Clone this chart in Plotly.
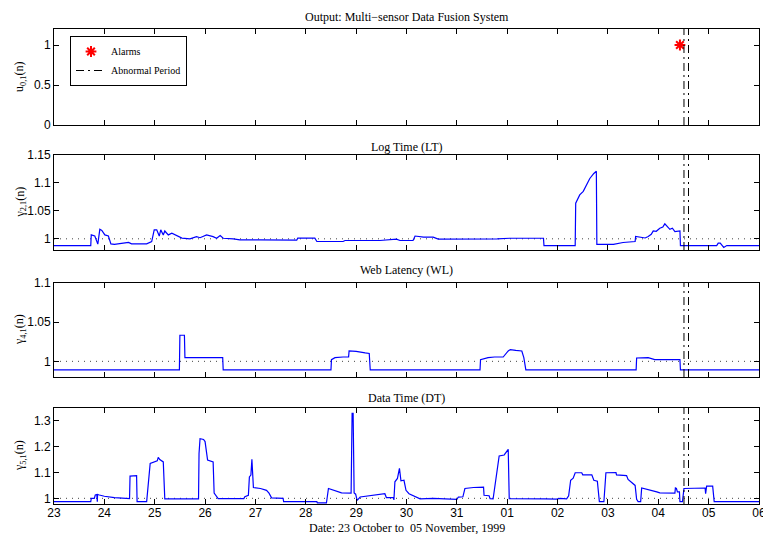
import plotly.graph_objects as go

# ---------------- data (x = days since 23 Oct 1999 00:00) ----------------
day_ticks = list(range(15))
day_labels = ["23", "24", "25", "26", "27", "28", "29", "30", "31",
              "01", "02", "03", "04", "05", "06"]

alarm_x = [12.43]
alarm_y = [1]
abnormal_start = 12.51
abnormal_end = 12.60

lt_x = [0, 0.73, 0.74, 0.81, 0.87, 0.91, 0.95, 1.01, 1.08, 1.13, 1.2, 1.33, 1.48, 1.54,
        1.84, 1.94, 1.99, 2.04, 2.09, 2.12, 2.17, 2.20, 2.27, 2.34, 2.44, 2.54, 2.70,
        2.83, 2.90, 3.03, 3.16, 3.23, 3.30, 3.36, 3.56, 3.69, 4.09, 4.30, 4.82, 4.84,
        5.18, 5.22, 5.74, 5.78, 6.47, 6.80, 6.87, 7.13, 7.17, 7.34, 7.53, 7.63, 8.20,
        8.26, 8.80, 9.05, 9.72, 9.73, 10.35, 10.36, 10.44, 10.51, 10.58, 10.64, 10.72,
        10.77, 10.78, 11.11, 11.30, 11.54, 11.55, 11.63, 11.74, 11.80, 11.86, 11.90,
        11.96, 12.03, 12.09, 12.13, 12.19, 12.23, 12.28, 12.33, 12.43, 12.44, 13.16,
        13.19, 13.23, 13.30, 13.36, 14.0]
lt_y = [0.988, 0.988, 1.007, 1.005, 0.9905, 1.017, 1.015, 1.007, 1.005, 0.991, 0.990,
        0.991, 0.9935, 0.991, 0.991, 0.995, 1.016, 1.016, 1.005, 1.016, 1.007, 1.014,
        1.007, 1.010, 1.005, 1.0012, 1.0, 1.004, 1.002, 1.007, 1.004, 1.001, 1.006,
        1.001, 1.0, 0.998, 0.998, 0.9976, 0.9976, 1.0012, 1.0012, 0.9952, 0.9952,
        0.997, 0.997, 0.9995, 0.997, 0.997, 1.005, 1.003, 1.003, 0.9995, 0.9995, 1.0,
        1.0, 1.001, 1.001, 0.988, 0.988, 1.0637, 1.0786, 1.085, 1.0964, 1.108, 1.117,
        1.121, 0.990, 0.990, 0.9934, 0.9952, 1.0041, 1.003, 1.0015, 1.004, 1.008,
        1.0143, 1.0135, 1.019, 1.021, 1.0268, 1.021, 1.017, 1.019, 1.013, 1.0143,
        0.988, 0.988, 0.9923, 0.9923, 0.9845, 0.988, 0.988]

wl_x = [0, 2.49, 2.50, 2.59, 2.60, 2.90, 2.93, 3.20, 3.35, 3.36, 5.50, 5.51, 5.58, 5.74,
        5.85, 5.86, 6.0, 6.18, 6.26, 6.28, 8.46, 8.47, 8.62, 8.75, 8.92, 9.02, 9.06,
        9.17, 9.29, 9.33, 9.37, 11.56, 11.57, 11.80, 11.93, 12.43, 12.44, 14.0]
wl_y = [0.989, 0.989, 1.0333, 1.0333, 1.0047, 1.0047, 1.0040, 1.0042, 1.0047, 0.989,
        0.989, 1.0022, 1.0047, 1.0055, 1.0055, 1.0132, 1.0128, 1.0107, 1.010, 0.989,
        0.989, 1.0022, 1.0047, 1.0055, 1.0055, 1.0132, 1.015, 1.014, 1.0132, 1.0047,
        0.989, 0.989, 1.0043, 1.0047, 1.0022, 1.0022, 0.989, 0.989]

dt_x = [0, 0.73, 0.74, 0.80, 0.82, 0.85, 0.86, 0.865, 0.90, 1.0, 1.2, 1.44, 1.50, 1.51,
        1.64, 1.65, 1.84, 1.91, 2.0, 2.05, 2.07, 2.10, 2.17, 2.20, 2.87, 2.88, 2.90,
        2.97, 3.0, 3.05, 3.16, 3.18, 3.26, 3.77, 3.79, 3.86, 3.88, 3.91, 3.93, 3.96,
        4.10, 4.22, 4.27, 4.32, 4.55, 4.56, 5.22, 5.23, 5.41, 5.45, 5.71, 5.90, 5.92,
        5.94, 5.96, 5.99, 6.02, 6.04, 6.08, 6.57, 6.60, 6.74, 6.75, 6.77, 6.82, 6.86,
        6.89, 6.95, 6.99, 7.05, 7.13, 7.27, 7.53, 8.0, 8.03, 8.12, 8.16, 8.33, 8.53,
        8.54, 8.64, 8.66, 8.72, 8.76, 8.79, 8.84, 8.94, 9.02, 9.04, 9.68, 9.75, 9.98,
        10.05, 10.18, 10.22, 10.26, 10.31, 10.35, 10.48, 10.50, 10.68, 10.72, 10.79,
        10.83, 10.92, 10.96, 11.16, 11.17, 11.37, 11.40, 11.47, 11.54, 11.57, 11.60,
        11.65, 11.67, 11.97, 12.03, 12.33, 12.34, 12.36, 12.38, 12.42, 12.43, 12.48,
        12.51, 12.93, 12.94, 12.96, 13.08, 13.11, 14.0]
dt_y = [0.987, 0.987, 1.0, 1.0, 1.013, 1.015, 0.987, 1.015, 1.013, 1.008, 1.003, 0.999,
        0.999, 1.086, 1.088, 0.987, 0.987, 1.135, 1.14, 1.145, 1.159, 1.15, 1.141,
        0.998, 0.998, 1.174, 1.231, 1.228, 1.22, 1.148, 1.141, 1.02, 0.999, 0.999,
        1.006, 1.012, 1.083, 1.09, 1.151, 1.042, 1.038, 1.031, 1.02, 1.002, 1.0, 0.987,
        0.987, 0.982, 0.982, 1.038, 1.021, 1.020, 1.329, 1.329, 1.021, 1.016, 0.992,
        0.998, 1.005, 1.018, 1.003, 1.003, 0.994, 1.064, 1.077, 1.116, 1.068, 1.07,
        1.031, 1.018, 1.010, 0.998, 1.0, 0.996, 1.005, 1.006, 1.038, 1.042, 1.043,
        1.012, 1.010, 0.999, 0.998, 1.051, 1.083, 1.164, 1.168, 1.190, 0.999, 1.0,
        0.998, 0.997, 1.0, 0.998, 1.01, 1.070, 1.078, 1.099, 1.099, 1.091, 1.091, 1.070,
        1.066, 0.987, 0.987, 1.099, 1.100, 1.091, 1.088, 1.073, 1.063, 1.050, 0.996,
        0.987, 0.987, 1.040, 1.025, 1.021, 1.020, 1.040, 1.038, 1.025, 1.025, 0.987,
        0.987, 1.038, 1.040, 1.018, 1.047, 1.047, 0.987, 0.987]

panel_titles = ["Output: Multi\u2212sensor Data Fusion System", "Log Time (LT)",
                "Web Latency (WL)", "Data Time (DT)"]
y_labels = ["u<sub>0,1</sub>(n)", "\u03b3<sub>2,1</sub>(n)",
            "\u03b3<sub>4,1</sub>(n)", "\u03b3<sub>5,1</sub>(n)"]
y_ranges = [[0, 1.2], [0.98, 1.15], [0.98, 1.1], [0.978, 1.35]]
y_tickvals = [[0, 0.5, 1], [1, 1.05, 1.1, 1.15], [1, 1.05, 1.1], [1, 1.1, 1.2, 1.3]]
y_ticktext = [["0", "0.5", "1"], ["1", "1.05", "1.1", "1.15"], ["1", "1.05", "1.1"],
              ["1", "1.1", "1.2", "1.3"]]
x_title = "Date: 23 October to  05 November, 1999"

# ---------------- layout geometry ----------------
W, H = 763, 534
L, R, T, B = 54, 4, 29, 30
plot_h = H - T - B
plot_w = W - L - R
panel_px = [(29, 125), (155, 250), (283, 377), (408, 504)]   # top, bottom in px
title_px = [17, 147, 270, 398]

def py(p):
    return (H - B - p) / plot_h

def px(p):
    return (p - L) / plot_w

SERIF = "Liberation Serif, Times New Roman, serif"
SANS = "Liberation Sans, Arial, Helvetica, sans-serif"
BLUE = "#0000ff"
DASHDOT = "8px,4px,2px,4px"

fig = go.Figure()

# panel 1: alarms
fig.add_trace(go.Scatter(x=alarm_x, y=alarm_y, mode="markers", name="Alarms",
                         marker=dict(symbol="asterisk-open", size=9, color="red",
                                     line=dict(color="red", width=2)),
                         xaxis="x", yaxis="y"))
fig.add_trace(go.Scatter(x=[None], y=[None], mode="lines", name="Abnormal Period",
                         line=dict(color="black", width=1, dash=DASHDOT),
                         xaxis="x", yaxis="y"))

series = [(lt_x, lt_y), (wl_x, wl_y), (dt_x, dt_y)]
for i, (sx, sy) in enumerate(series, start=2):
    fig.add_trace(go.Scatter(x=sx, y=sy, mode="lines", showlegend=False,
                             line=dict(color=BLUE, width=1.2),
                             xaxis=f"x{i}", yaxis=f"y{i}"))

layout = dict(
    width=W, height=H, margin=dict(l=L, r=R, t=T, b=B, autoexpand=False),
    paper_bgcolor="white", plot_bgcolor="white",
    font=dict(family=SANS, size=12, color="black"),
    showlegend=True,
    legend=dict(x=px(70), y=py(36), xanchor="left", yanchor="top",
                bgcolor="white", bordercolor="black", borderwidth=1,
                font=dict(family=SERIF, size=10, color="black"),
                tracegroupgap=0, itemwidth=30),
)

annotations = []
shapes = []
for k in range(4):
    n = "" if k == 0 else str(k + 1)
    top, bot = panel_px[k]
    layout[f"xaxis{n}"] = dict(
        domain=[0, 1], anchor=f"y{n}", range=[0, 14], automargin=False,
        tickmode="array", tickvals=day_ticks, ticktext=day_labels,
        showticklabels=(k == 3), ticks="inside", ticklen=5, tickcolor="black",
        ticklabeloverflow="allow", ticklabelstandoff=-2,
        showline=True, linecolor="black", linewidth=1, mirror="ticks",
        showgrid=False, zeroline=False,
        tickfont=dict(family=SANS, size=12, color="black"),
    )
    layout[f"yaxis{n}"] = dict(
        domain=[py(bot), py(top)], anchor=f"x{n}", range=y_ranges[k],
        automargin=False,
        tickmode="array", tickvals=y_tickvals[k], ticktext=y_ticktext[k],
        ticks="inside", ticklen=5, tickcolor="black",
        showline=True, linecolor="black", linewidth=1, mirror="ticks",
        showgrid=False, zeroline=False,
        tickfont=dict(family=SANS, size=12, color="black"),
    )
    annotations.append(dict(text=panel_titles[k], xref="paper", yref="paper",
                            x=0.5, y=py(title_px[k]), xanchor="center",
                            yanchor="middle", showarrow=False,
                            font=dict(family=SERIF, size=12, color="black")))
    annotations.append(dict(text=y_labels[k], xref="paper", yref="paper",
                            x=px(20), y=py((top + bot) / 2),
                            xanchor="center", yanchor="middle", textangle=-90,
                            showarrow=False,
                            font=dict(family=SERIF, size=12, color="black")))
    for xv in (abnormal_start, abnormal_end):
        shapes.append(dict(type="line", xref=f"x{n}", yref=f"y{n} domain",
                           x0=xv, x1=xv, y0=0, y1=1,
                           line=dict(color="black", width=1, dash=DASHDOT)))
    if k > 0:
        shapes.append(dict(type="line", xref=f"x{n} domain", yref=f"y{n}",
                           x0=0, x1=1, y0=1, y1=1, layer="below",
                           line=dict(color="#444444", width=1, dash="1px,5px")))

annotations.append(dict(text=x_title, xref="paper", yref="paper", x=0.5, y=py(527.5),
                        xanchor="center", yanchor="middle", showarrow=False,
                        font=dict(family=SERIF, size=12, color="black")))

layout["annotations"] = annotations
layout["shapes"] = shapes
fig.update_layout(**layout)

# remove the default 8px page margin so the figure sits at the window origin
fig.write_html("out.html",
               config={"displayModeBar": False},
               post_script="document.body.style.margin='0';"
                           "document.body.style.overflow='hidden';")
